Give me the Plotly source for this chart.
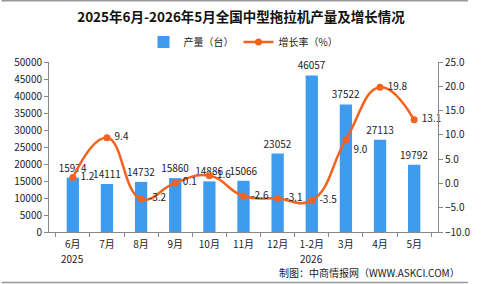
import plotly.graph_objects as go

categories = ["6月", "7月", "8月", "9月", "10月", "11月", "12月", "1-2月", "3月", "4月", "5月"]
year_labels = {"6月": "2025", "1-2月": "2026"}
production = [15974, 14111, 14732, 15860, 14886, 15066, 23052, 46057, 37522, 27113, 19792]
growth = [1.2, 9.4, -3.2, 0.1, 1.6, -2.6, -3.1, -3.5, 9.0, 19.8, 13.1]
growth_labels = ["1.2", "9.4", "-3.2", "0.1", "1.6", "-2.6", "-3.1", "-3.5", "9.0", "19.8", "13.1"]
growth_pos = ["middle right"] * 8 + ["bottom right", "middle right", "middle right"]

FONT = "Noto Sans CJK SC, DejaVu Sans, sans-serif"
BAR_C = "#3E9BEE"
LINE_C = "#F2631F"

W, H = 482, 284
ML, MR, MT, MB = 49, 31, 62, 52
PW, PH = W - ML - MR, H - MT - MB

def px_to_paper_x(px):
    return (px - ML) / PW

def px_to_paper_y(py):
    return (H - MB - py) / PH

fig = go.Figure()
fig.add_trace(go.Bar(
    x=categories, y=production, name="产量（台）",
    marker=dict(color=BAR_C, line=dict(width=0)),
    text=[str(v) for v in production], textposition="outside",
    textfont=dict(size=10, color="#222", family=FONT),
    constraintext="none", cliponaxis=False,
))
fig.add_trace(go.Scatter(
    x=categories, y=growth, name="增长率（%）", yaxis="y2",
    mode="lines+markers+text",
    line=dict(color=LINE_C, width=2.5, shape="spline", smoothing=1.3),
    marker=dict(color=LINE_C, size=7),
    text=[" " + t for t in growth_labels], textposition=growth_pos,
    textfont=dict(size=10, color="#222", family=FONT),
    cliponaxis=False,
))

annotations = [dict(text="制图：中商情报网（WWW.ASKCI.COM）", x=px_to_paper_x(476), xref="paper",
                    xanchor="right", y=px_to_paper_y(272), yref="paper", yanchor="middle",
                    showarrow=False, font=dict(size=10, family=FONT))]
for cat, yr in year_labels.items():
    annotations.append(dict(text=yr, x=cat, xref="x", y=px_to_paper_y(258), yref="paper",
                            xanchor="center", yanchor="middle", showarrow=False,
                            font=dict(size=10, family=FONT, color="#222")))

fig.update_layout(
    width=W, height=H,
    margin=dict(l=ML, r=MR, t=MT, b=MB),
    paper_bgcolor="white", plot_bgcolor="white",
    font=dict(family=FONT, size=10, color="#222"),
    title=dict(text="<b>2025年6月-2026年5月全国中型拖拉机产量及增长情况</b>",
               x=0.5, xanchor="center", y=1 - 17 / H, yanchor="middle",
               font=dict(size=13.5, color="#111", family=FONT)),
    bargap=0.64,
    showlegend=True,
    legend=dict(orientation="h", x=0.5, xanchor="center", y=px_to_paper_y(42), yanchor="middle",
                font=dict(size=10, family=FONT), itemwidth=30, traceorder="normal"),
    xaxis=dict(showline=True, linecolor="#888", linewidth=1, ticks="outside",
               ticklen=4, tickcolor="#888", tickson="boundaries", ticklabelstandoff=3,
               tickfont=dict(size=10, family=FONT), showgrid=False),
    yaxis=dict(range=[0, 50000], dtick=5000, tickformat="d", showline=True, linecolor="#888",
               linewidth=1, ticks="outside", ticklen=4, tickcolor="#888",
               showgrid=False, zeroline=False, tickfont=dict(size=10, family=FONT)),
    yaxis2=dict(range=[-10, 25], dtick=5, tickformat=".1f", overlaying="y", side="right",
                showline=True, linecolor="#888", linewidth=1, ticks="outside",
                ticklen=4, tickcolor="#888", showgrid=False, zeroline=False,
                tickfont=dict(size=10, family=FONT)),
    annotations=annotations,
)

for py in (0.75, 282.5):
    fig.add_shape(type="line", xref="paper", yref="paper",
                  x0=px_to_paper_x(0), x1=px_to_paper_x(W),
                  y0=px_to_paper_y(py), y1=px_to_paper_y(py),
                  line=dict(color="#999", width=1.5))

fig.write_html("out.html")
